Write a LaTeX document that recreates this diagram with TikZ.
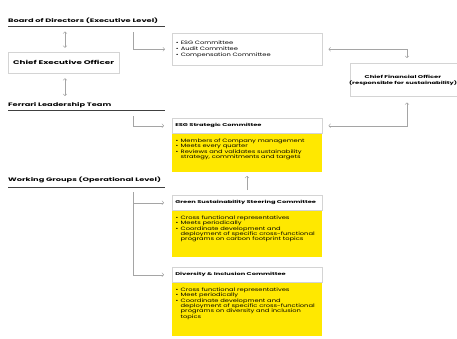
\documentclass[tikz,border=0pt]{standalone}
\usepackage{fontspec}
\setmainfont{Poppins}[FakeStretch=1.4]
\newfontfamily\headf{Poppins}[FakeStretch=1.65]
\usetikzlibrary{arrows.meta}
\definecolor{fy}{RGB}{255,232,0}
\definecolor{bd}{RGB}{212,212,212}
\definecolor{cn}{RGB}{165,165,165}
\newcommand{\bitem}[1]{\hangindent=5pt\hangafter=1\noindent\makebox[5pt][l]{\textbullet}#1\par}
\newcommand{\ybtext}[2]{\parbox[t][#1][t]{150pt}{\raggedright\leftskip=3.5pt\vspace*{5pt}#2}}
\tikzset{
  bodyfont/.style={font=\fontsize{4.8}{5.4}\selectfont},
  headfont/.style={font=\headf\fontsize{5.0}{5.8}\selectfont\bfseries},
  cheadfont/.style={font=\headf\fontsize{4.05}{5.8}\selectfont\bfseries},
  lbl/.style={headfont, anchor=base west, inner sep=0},
  rule/.style={draw=black!75, line width=0.5pt},
  conn/.style={draw=cn, line width=0.45pt},
  tipend/.style={-{Straight Barb[length=1.8pt,width=4pt]}},
  tipboth/.style={{Straight Barb[length=1.8pt,width=4pt]}-{Straight Barb[length=1.8pt,width=4pt]}},
  wbox/.style={draw=bd, fill=white, line width=0.5pt},
  chead/.style={wbox, cheadfont, anchor=north west, minimum width=150, minimum height=15, text width=144, align=left, inner xsep=3},
  ybody/.style={fill=fy, bodyfont, anchor=north west, inner sep=0},
}
\begin{document}
\begin{tikzpicture}[x=1pt,y=-1pt]
\useasboundingbox (0,0) rectangle (457,338);
% headings
\node[lbl] (hbod) at (8,22.5) {Board of Directors (Executive Level)};
\draw[rule] (8,26.5) coordinate (rb1) -- (165,26.5) coordinate (rb2);
\node[lbl] (hflt) at (8,106) {Ferrari Leadership Team};
\draw[rule] (8,110.5) coordinate (rf1) -- (165,110.5) coordinate (rf2);
\node[lbl] (hwg) at (8,181.5) {Working Groups (Operational Level)};
\draw[rule] (8,187) coordinate (rw1) -- (165,187) coordinate (rw2);
% CEO
\node[wbox, font=\headf\fontsize{5.3}{5.8}\selectfont\bfseries, minimum width=111, minimum height=21] (ceo) at (63.5,62.5) {Chief Executive Officer};
\coordinate (ca) at (65,31.5);
\coordinate (cb) at (65,96);
\draw[conn,tipboth,shorten >=4pt] (ca) -- (ca |- ceo.north);
\draw[conn,tipboth,shorten <=5pt] (ceo.south -| cb) -- (cb);
% board committees
\node[wbox, font=\fontsize{4.8}{5.8}\selectfont, anchor=north west, minimum width=150, minimum height=32, text width=143, align=left, inner xsep=3.5] (bc) at (172,33)
 {\bitem{ESG Committee}\bitem{Audit Committee}\bitem{Compensation Committee}};
% CFO
\node[wbox, minimum width=112, minimum height=33, anchor=north west] (cfo) at (350,63) {};
\node[font=\headf\fontsize{4.1}{5.8}\selectfont\bfseries, align=center, inner sep=0] (cfot) at (403,80)
 {Chief Financial Officer\\(responsible for sustainability)};
% ESG strategic
\node[chead] (esgh) at (172,118) {\mbox{ESG Strategic Committee}};
\node[ybody] (esgb) at (esgh.south west) {\ybtext{38pt}{%
 \bitem{Members of Company management}\bitem{Meets every quarter}\bitem{Reviews and validates sustainability\newline strategy, commitments and targets}}};
% Green
\node[chead] (gsh) at (172,195) {\mbox{Green Sustainability Steering Committee}};
\node[ybody] (gsb) at (gsh.south west) {\ybtext{46pt}{%
 \bitem{Cross functional representatives}\bitem{Meets periodically}\bitem{Coordinate development and\newline deployment of specific cross-functional\newline programs on carbon footprint topics}}};
% D&I
\node[chead] (dih) at (172,267) {\mbox{Diversity \& Inclusion Committee}};
\node[ybody] (dib) at (dih.south west) {\ybtext{53pt}{%
 \bitem{Cross functional representatives}\bitem{Meet periodically}\bitem{Coordinate development and\newline deployment of specific cross-functional\newline programs on diversity and inclusion\newline topics}}};
% connectors
\coordinate (bx) at (133,32);
\draw[conn,tipend,shorten >=7pt] (bx) |- (bc.west);
\coordinate (fx) at (133,116);
\draw[conn,tipend,shorten >=8pt] (fx) |- (esgh.west);
\coordinate (wx) at (133,192);
\coordinate (ux) at (247,0);
\draw[conn,tipend,shorten >=8pt] (wx) |- (dih.west);
\draw[conn,tipend,shorten >=8pt] (wx |- gsh.west) -- (gsh.west);
\draw[conn,tipend,shorten <=5pt,shorten >=4pt] (gsh.north -| ux) -- (esgb.south -| ux);
\coordinate (cx) at (407,0);
\draw[conn,tipboth,shorten <=6pt,shorten >=5pt] (bc.east) -| (cfo.north -| cx);
\draw[conn,tipboth,shorten <=6pt,shorten >=6pt] (esgh.east) -| (cfo.south -| cx);
\end{tikzpicture}
\end{document}
